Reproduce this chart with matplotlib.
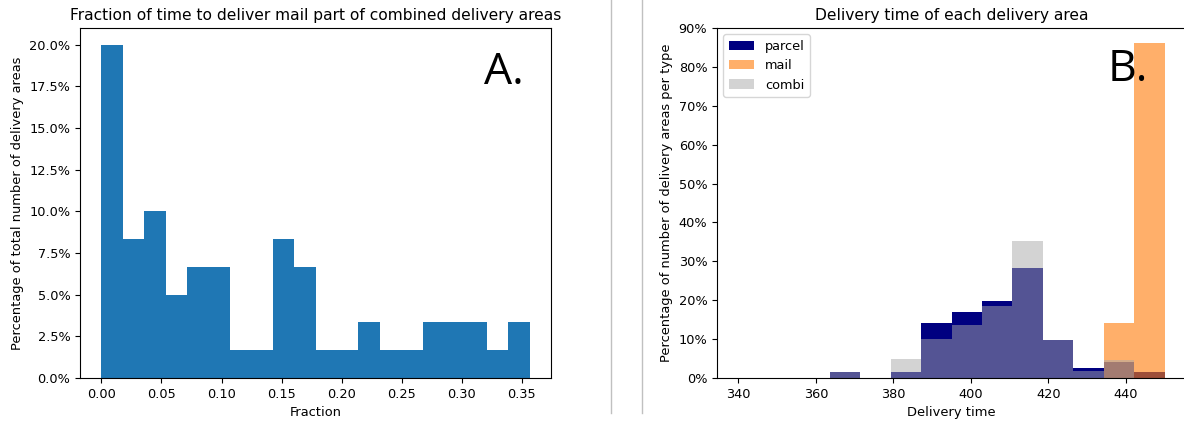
import numpy as np
import matplotlib
matplotlib.use("Agg")
import matplotlib.pyplot as plt
from matplotlib.ticker import PercentFormatter
from matplotlib.lines import Line2D

# fraction of time spent on mail within combined areas (60 areas, 20 bins)
frac_edges = np.linspace(0, 0.3564, 21)
frac_counts = [12, 5, 6, 3, 4, 4, 1, 1, 5, 4, 1, 1, 2, 1, 1, 2, 2, 2, 1, 2]

# delivery time per area type, percent of areas of that type per bin
time_edges = np.linspace(340, 450, 15)
parcel_pct = [0, 0, 0, 1.55, 0, 1.55, 14.2, 16.9, 19.8, 28.2, 9.7, 2.6, 4.0, 1.45]
mail_pct = [0, 0, 0, 0, 0, 0, 0, 0, 0, 0, 0, 0, 14.2, 86.1]
combi_pct = [0, 0, 0, 1.55, 0, 4.8, 10.0, 13.6, 18.5, 35.3, 9.7, 1.8, 4.65, 0]

W, H = 1184, 423
fig = plt.figure(figsize=(W / 100, H / 100), dpi=100)

def px_axes(x0, x1, y0, y1):
    return fig.add_axes([x0 / W, 1 - y1 / H, (x1 - x0) / W, (y1 - y0) / H])

tick_fs = 9.3
lab_fs = 9.4
title_fs = 11.2

# A. histogram of mail fraction
ax1 = px_axes(80, 551, 28, 378)
frac_centers = (frac_edges[:-1] + frac_edges[1:]) / 2
weights = np.array(frac_counts) / sum(frac_counts) * 100
ax1.hist(frac_centers, bins=frac_edges, weights=weights, color="tab:blue")
ax1.yaxis.set_major_formatter(PercentFormatter(xmax=100, decimals=1))
ax1.set_yticks(np.arange(0, 20.1, 2.5))
ax1.set_title("Fraction of time to deliver mail part of combined delivery areas", fontsize=title_fs)
ax1.set_xlabel("Fraction", fontsize=lab_fs)
ax1.set_ylabel("Percentage of total number of delivery areas", fontsize=lab_fs)
ax1.tick_params(labelsize=tick_fs)

# B. delivery time per type, overlaid
ax2 = px_axes(717, 1186, 28, 378)
time_centers = (time_edges[:-1] + time_edges[1:]) / 2
ax2.hist(time_centers, bins=time_edges, weights=parcel_pct, color="navy", label="parcel")
ax2.hist(time_centers, bins=time_edges, weights=mail_pct, color="tab:orange", alpha=0.62, label="mail")
ax2.hist(time_centers, bins=time_edges, weights=combi_pct, color="darkgrey", alpha=0.5, label="combi")
ax2.set_ylim(0, 90)
ax2.set_yticks(np.arange(0, 91, 10))
ax2.yaxis.set_major_formatter(PercentFormatter(xmax=100, decimals=0))
ax2.set_title("Delivery time of each delivery area", fontsize=title_fs)
ax2.set_xlabel("Delivery time", fontsize=lab_fs)
ax2.set_ylabel("Percentage of number of delivery areas per type", fontsize=lab_fs)
ax2.tick_params(labelsize=tick_fs)
ax2.legend(loc="upper left", fontsize=tick_fs)

# panel letters
fig.text(484 / W, 1 - 84 / H, "A.", fontsize=32, family="Open Sans", ha="left", va="baseline")
fig.text(1108 / W, 1 - 81 / H, "B.", fontsize=32, family="Open Sans", ha="left", va="baseline")

# divider between the two panels
for xp in (611, 642):
    fig.add_artist(Line2D([xp / W, xp / W], [1 - 413 / H, 1], color="#c0c0c0", lw=1))

fig.savefig("out.png", dpi=100)
